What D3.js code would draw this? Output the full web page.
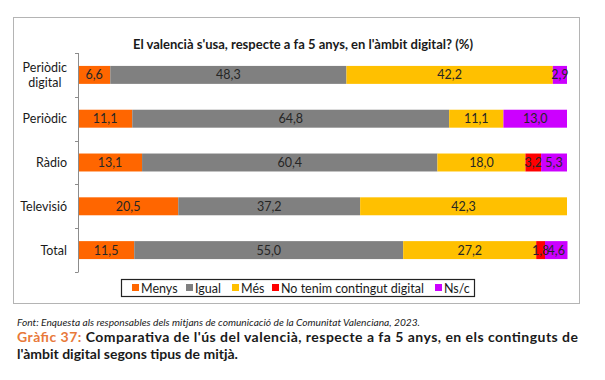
<!DOCTYPE html>
<html>
<head>
<meta charset="utf-8">
<script src="https://cdn.jsdelivr.net/npm/d3@7"></script>
<style>
  html, body { margin: 0; padding: 0; background: #fff; }
  svg { display: block; font-family: Lato, "DejaVu Sans", sans-serif; }
</style>
</head>
<body>
<svg id="chart" width="605" height="380"></svg>
<script>
// ---- Data ----
const categories = [["Periòdic", "digital"], ["Periòdic"], ["Ràdio"], ["Televisió"], ["Total"]];
const seriesNames = ["Menys", "Igual", "Més", "No tenim contingut digital", "Ns/c"];
const menys   = [6.6, 11.1, 13.1, 20.5, 11.5];
const igual   = [48.3, 64.8, 60.4, 37.2, 55.0];
const mes     = [42.2, 11.1, 18.0, 42.3, 27.2];
const noTenim = [0, 0, 3.2, 0, 1.8];
const nsc     = [2.9, 13.0, 5.3, 0, 4.6];
const chartTitle = "El valencià s'usa, respecte a fa 5 anys, en l'àmbit digital? (%)";
const sourceText = "Font: Enquesta als responsables dels mitjans de comunicació de la Comunitat Valenciana, 2023.";
const captionLabel = "Gràfic 37:";
const captionLine1 = " Comparativa de l'ús del valencià, respecte a fa 5 anys, en els continguts de";
const captionLine2 = "l'àmbit digital segons tipus de mitjà.";

const colors = ["#FF6600", "#808080", "#FFC000", "#FF0000", "#CC00FF"];
const seriesValues = [menys, igual, mes, noTenim, nsc];

// ---- Build stacked data ----
const keys = categories.map(c => c.join(" "));
const rows = keys.map((k, i) => {
  const r = { key: k };
  seriesNames.forEach((s, j) => r[s] = seriesValues[j][i]);
  return r;
});
const stack = d3.stack().keys(seriesNames)(rows);

const svg = d3.select("#chart");

// Frame
svg.append("rect").attr("x", 13.5).attr("y", 17.5).attr("width", 566).attr("height", 286)
  .attr("fill", "#fff").attr("stroke", "#b4b4b4").attr("stroke-width", 1);

// Title
svg.append("text").attr("x", 303).attr("y", 49).attr("text-anchor", "middle")
  .attr("font-weight", "bold").attr("font-size", 12.5).attr("fill", "#1a1a1a")
  .attr("textLength", 340).attr("lengthAdjust", "spacingAndGlyphs")
  .text(chartTitle);

// Scales
const x = d3.scaleLinear().domain([0, 100]).range([78, 567]);
const y = d3.scaleBand().domain(keys).range([53, 272]).paddingInner(0.59).paddingOuter(0.295);

// Bars
const fmt = v => d3.format(".1f")(v).replace(".", ",");
const g = svg.append("g");
stack.forEach((layer, li) => {
  layer.forEach((d, i) => {
    const v = d[1] - d[0];
    if (v <= 0) return;
    g.append("rect")
      .attr("x", x(d[0])).attr("y", y(keys[i]))
      .attr("width", x(d[1]) - x(d[0])).attr("height", y.bandwidth())
      .attr("fill", colors[li]);
  });
});
stack.forEach((layer, li) => {
  layer.forEach((d, i) => {
    const v = d[1] - d[0];
    if (v <= 0) return;
    g.append("text")
      .attr("x", (x(d[0]) + x(d[1])) / 2)
      .attr("y", y(keys[i]) + y.bandwidth() / 2 + 4.5)
      .attr("text-anchor", "middle").attr("font-size", 12.5).attr("fill", "#262626")
      .text(fmt(v));
  });
});

// Axis (line + boundary ticks)
const axisG = svg.append("g");
axisG.append("line").attr("x1", 78.5).attr("x2", 78.5).attr("y1", 53).attr("y2", 272)
  .attr("stroke", "#8c8c8c").attr("stroke-width", 1);
d3.range(keys.length + 1).forEach(i => {
  const yy = Math.round(53 + i * y.step()) + 0.5;
  axisG.append("line").attr("x1", 75).attr("x2", 78.5).attr("y1", yy).attr("y2", yy)
    .attr("stroke", "#8c8c8c").attr("stroke-width", 1);
});

// Category labels (right-aligned block, multi-line centred within block)
const labelRight = 67;
categories.forEach((c, i) => {
  const cy = y(keys[i]) + y.bandwidth() / 2;
  const t = svg.append("text").attr("text-anchor", "middle").attr("font-size", 12.5).attr("fill", "#1a1a1a");
  const lh = 14.5;
  const spans = c.map((line, li) => t.append("tspan")
      .attr("y", cy + 4.5 + (li - (c.length - 1) / 2) * lh)
      .text(line));
  const maxW = d3.max(spans, s => s.node().getComputedTextLength());
  spans.forEach(s => s.attr("x", labelRight - maxW / 2));
});

// Legend
const legG = svg.append("g");
legG.append("rect").attr("x", 121.5).attr("y", 279.5).attr("width", 353).attr("height", 17)
  .attr("fill", "#fff").attr("stroke", "#222").attr("stroke-width", 1.2);
const legX = [132, 186, 232, 272, 435];
seriesNames.forEach((s, i) => {
  legG.append("rect").attr("x", legX[i]).attr("y", 284).attr("width", 7).attr("height", 7)
    .attr("fill", colors[i]);
  legG.append("text").attr("x", legX[i] + 9).attr("y", 292.5).attr("font-size", 12.5)
    .attr("fill", "#1a1a1a").text(s);
});

// Source
svg.append("text").attr("x", 17).attr("y", 326).attr("font-size", 9.5).attr("font-style", "italic")
  .attr("fill", "#222").attr("textLength", 403).attr("lengthAdjust", "spacingAndGlyphs")
  .text(sourceText);

// Caption
const cap = svg.append("text").attr("x", 17).attr("y", 342).attr("font-size", 14)
  .attr("font-weight", "bold").attr("fill", "#1a1a1a")
  .attr("textLength", 561).attr("lengthAdjust", "spacing");
cap.append("tspan").attr("fill", "#E8793A").text(captionLabel);
cap.append("tspan").text(captionLine1);
svg.append("text").attr("x", 17).attr("y", 359).attr("font-size", 14)
  .attr("font-weight", "bold").attr("fill", "#1a1a1a").text(captionLine2);
</script>
</body>
</html>
